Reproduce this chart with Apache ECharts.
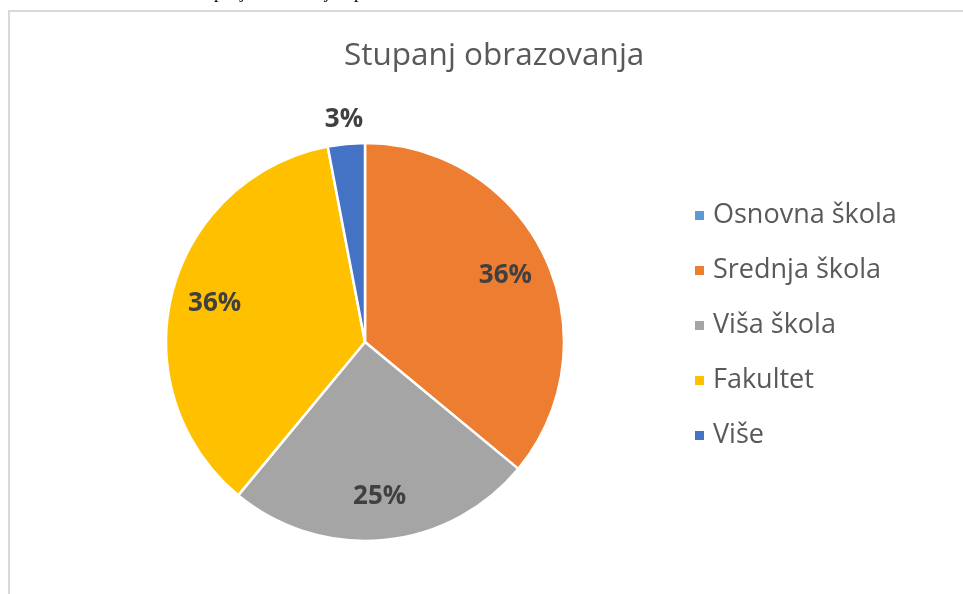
<!DOCTYPE html>
<html>
<head>
<meta charset="utf-8">
<script src="https://cdn.jsdelivr.net/npm/echarts@6/dist/echarts.min.js"></script>
<style>
  html, body { margin: 0; padding: 0; background: #fff; }
  #chart-container { width: 963px; height: 594px; }
</style>
</head>
<body>
<div id="chart-container"></div>
<script>
// podaci
var categories = ['Osnovna škola', 'Srednja škola', 'Viša škola', 'Fakultet', 'Više'];
var values = [0, 36, 25, 36, 3];
var colors = ['#5B9BD5', '#ED7D31', '#A5A5A5', '#FFC000', '#4472C4'];

var cx = 365, cy = 342, radius = 199;
var total = values.reduce(function (a, b) { return a + b; }, 0);

// srednji kut svakog isječka (od vrha, u smjeru kazaljke)
function midAngle(idx) {
    var before = 0;
    for (var i = 0; i < idx; i++) before += values[i];
    return (before + values[idx] / 2) / total * Math.PI * 2;
}

var dom = document.getElementById('chart-container');
var myChart = echarts.init(dom, null, { renderer: 'canvas' });

var option = {
    animation: false,
    title: {
        text: 'Stupanj obrazovanja',
        left: 339,
        top: 35,
        textStyle: {
            fontFamily: 'Open Sans',
            fontSize: 31.5,
            fontWeight: 'normal',
            color: '#595959'
        }
    },
    graphic: [
        {
            type: 'rect',
            shape: { x: 9, y: 11, width: 1000, height: 700 },
            style: { fill: 'none', stroke: '#d9d9d9', lineWidth: 2 },
            silent: true
        },
        {
            type: 'text',
            x: 190,
            y: -16,
            style: {
                text: 'Stupanj obrazovanja ispitanika',
                font: '18px "Liberation Serif"',
                fill: '#000'
            },
            silent: true
        }
    ],
    legend: {
        orient: 'vertical',
        left: 688,
        top: 197,
        itemWidth: 11,
        itemHeight: 11,
        itemGap: 28,
        icon: 'rect',
        textStyle: {
            fontFamily: 'Open Sans',
            fontSize: 27,
            color: '#595959',
            padding: [0, 0, 0, 3]
        },
        data: categories
    },
    series: [
        {
            type: 'pie',
            center: [cx, cy],
            radius: [0, radius],
            startAngle: 90,
            clockwise: true,
            percentPrecision: 0,
            itemStyle: { borderColor: '#fff', borderWidth: 2.5 },
            label: {
                position: 'inside',
                formatter: function (p) { return p.value ? p.percent + '%' : ''; },
                fontFamily: 'Open Sans',
                fontWeight: 'bold',
                fontSize: 26,
                color: '#404040'
            },
            labelLine: { show: false },
            labelLayout: function (params) {
                var idx = params.dataIndex;
                var a = midAngle(idx);
                var r = values[idx] / total < 0.05 ? radius + 24 : radius * 0.78;
                return {
                    x: cx + r * Math.sin(a),
                    y: cy - r * Math.cos(a),
                    align: 'center',
                    verticalAlign: 'middle'
                };
            },
            data: categories.map(function (name, i) {
                return { name: name, value: values[i], itemStyle: { color: colors[i] } };
            })
        }
    ]
};

myChart.setOption(option);
window.addEventListener('resize', myChart.resize);
</script>
</body>
</html>
